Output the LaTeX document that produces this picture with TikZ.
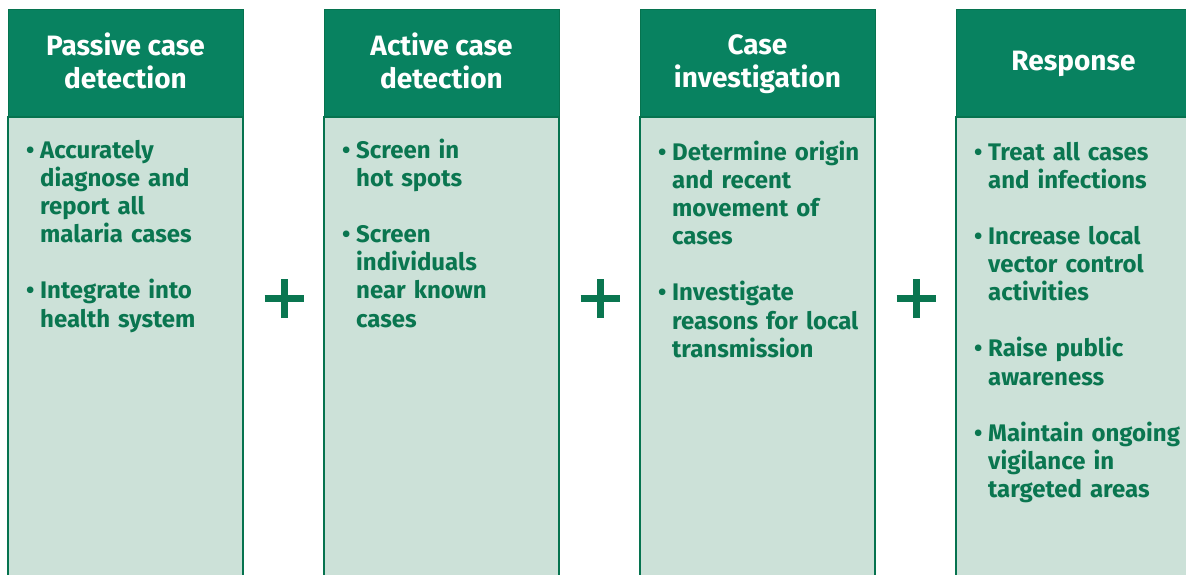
\documentclass[tikz,border=0pt]{standalone}
\usepackage{fontspec}
\setmainfont{Fira Sans}
\usetikzlibrary{positioning}

\definecolor{headgreen}{HTML}{088260}
\definecolor{bodygreen}{HTML}{CCE1D8}
\definecolor{textgreen}{HTML}{0A7650}
\definecolor{edgegreen}{HTML}{06734F}

% one bullet point, later lines hang under the text
\newcommand{\itm}[1]{\par\noindent\hangindent=16pt\hangafter=1\makebox[16pt][l]{\kern2pt\textbullet}#1\par}
\newcommand{\itmgap}{\vspace{27.8pt}}

\begin{document}
\begin{tikzpicture}[x=1pt,y=1pt,
  head/.style={rectangle, fill=headgreen, draw=edgegreen, line width=1pt, outer sep=0pt,
    minimum width=235pt, minimum height=107pt, inner sep=0pt, text=white, align=center,
    text depth=5pt, font=\fontsize{28}{33}\selectfont\bfseries},
  body/.style={rectangle, fill=bodygreen, draw=edgegreen, line width=1.5pt, outer sep=0pt,
    minimum width=235pt, minimum height=470pt, inner sep=0pt, anchor=north},
  list/.style={anchor=north west, inner sep=0pt, text width=240pt, align=left, text=textgreen,
    font=\fontsize{24}{28.2}\selectfont\bfseries},
  plus/.style={draw=textgreen, line width=7pt}]

\useasboundingbox (0,0) rectangle (1186,574);

% HEADERS
\node[head] (passive) at (125.5,510.5) {Passive case\\detection};
\node[head, right=81pt of passive] (active) {Active case\\detection};
\node[head, right=81pt of active] (invest) {Case\\investigation};
\node[head, right=81pt of invest] (response) {Response};

% BODIES
\node[body, below=0pt of passive] (passivebody) {};
\node[body, below=0pt of active] (activebody) {};
\node[body, below=0pt of invest] (investbody) {};
\node[body, below=0pt of response] (responsebody) {};

% LISTS
\node[list] (passivelist) at ([xshift=16pt,yshift=-13pt]passivebody.north west) {%
  \itm{Accurately\newline diagnose and\newline report all\newline malaria cases}\itmgap
  \itm{Integrate into\newline health system}};
\node[list] (activelist) at ([xshift=16pt,yshift=-13pt]activebody.north west) {%
  \itm{Screen in\newline hot spots}\itmgap
  \itm{Screen\newline individuals\newline near known\newline cases}};
\node[list] (investlist) at ([xshift=16pt,yshift=-15pt]investbody.north west) {%
  \itm{Determine origin\newline and recent\newline movement of\newline cases}\itmgap
  \itm{Investigate\newline reasons for local\newline transmission}};
\node[list] (responselist) at ([xshift=16pt,yshift=-15pt]responsebody.north west) {%
  \itm{Treat all cases\newline and infections}\itmgap
  \itm{Increase local\newline vector control\newline activities}\itmgap
  \itm{Raise public\newline awareness}\itmgap
  \itm{Maintain ongoing\newline vigilance in\newline targeted areas}};

% PLUS SIGNS
\draw[plus] (284,275.5) +(-19.5,0) -- +(19.5,0) +(0,-19.5) -- +(0,19.5);
\draw[plus] (600,275.5) +(-19.5,0) -- +(19.5,0) +(0,-19.5) -- +(0,19.5);
\draw[plus] (916,275.5) +(-19.5,0) -- +(19.5,0) +(0,-19.5) -- +(0,19.5);

\end{tikzpicture}
\end{document}
